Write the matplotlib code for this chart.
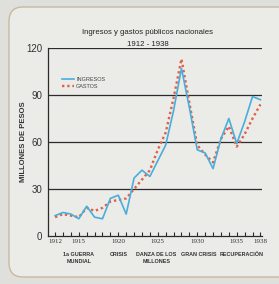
import matplotlib.pyplot as plt
from matplotlib.patches import FancyBboxPatch
from matplotlib.lines import Line2D

years = list(range(1912, 1939))
ingresos = [13, 15, 14, 11, 19, 12, 11, 24, 26, 14, 37, 42, 38, 48, 58, 80, 107,
            82, 55, 53, 43, 62, 75, 59, 73, 89, 87]
gastos = [12, 14, 13, 12, 18, 16, 18, 22, 23, 24, 30, 36, 42, 55, 66, 88, 113,
          85, 58, 52, 47, 62, 70, 57, 65, 75, 84]

year_ticks = [1912, 1915, 1920, 1925, 1930, 1935, 1938]
periods = ["1a GUERRA\nMUNDIAL", "CRISIS", "DANZA DE LOS\nMILLONES", "GRAN CRISIS", "RECUPERACIÓN"]
period_pos = [1915, 1920, 1924.8, 1930.2, 1935.6]
y_ticks = [0, 30, 60, 90, 120]

narrow = ["Liberation Sans Narrow", "Liberation Sans", "DejaVu Sans"]

fig = plt.figure(figsize=(2.79, 2.84), dpi=100)
fig.patch.set_facecolor("#dfdfdb")

# card behind the chart
card = FancyBboxPatch((9 / 279, 7 / 284), 290 / 279, 270 / 284,
                      boxstyle="round,pad=0,rounding_size=0.05",
                      transform=fig.transFigure, facecolor="#ebebe8",
                      edgecolor="#cbb89f", linewidth=1.0, zorder=-5)
fig.patches.append(card)

ax = fig.add_axes([48 / 279, 1 - 236 / 284, 214 / 279, 188 / 284])
ax.set_facecolor("none")
ax.set_zorder(1)

for v in y_ticks[1:]:
    ax.axhline(v, color="#2b2b2b", linewidth=0.9, zorder=1)

ax.plot(years, gastos, color="#e0604a", linestyle=(0, (1, 1.2)), linewidth=1.7, zorder=2)
ax.plot(years, ingresos, color="#48aedb", linewidth=1.2, zorder=3)

ax.set_xlim(1911.1, 1938.2)
ax.set_ylim(0, 120)
for s in ["top", "right"]:
    ax.spines[s].set_visible(False)
ax.spines["left"].set_color("#2b2b2b")
ax.spines["bottom"].set_color("#2b2b2b")
ax.spines["left"].set_linewidth(0.9)
ax.spines["bottom"].set_linewidth(0.9)

ax.set_yticks(y_ticks)
ax.set_yticklabels([str(v) for v in y_ticks], fontsize=7, color="#333333", family=narrow)
ax.tick_params(axis="y", length=0, pad=4)

ax.set_xticks(years, minor=True)
ax.set_xticks(year_ticks)
ax.set_xticklabels([str(y) for y in year_ticks], fontsize=5, color="#333333",
                   family=["Liberation Serif", "DejaVu Serif"])
ax.tick_params(axis="x", which="both", direction="in", length=3, width=0.8,
               color="#2b2b2b", pad=2)

for label, pos in zip(periods, period_pos):
    ax.text(pos, -0.085, label, transform=ax.get_xaxis_transform(), ha="center",
            va="top", fontsize=3.9, color="#333333", family=narrow,
            fontweight="bold", linespacing=1.4)

ax.set_ylabel("MILLONES DE PESOS", fontsize=5.5, color="#333333", family=narrow,
              fontweight="bold")
ax.yaxis.set_label_coords(-0.1, 0.5)

fig.text(148 / 279, 1 - 32 / 284, "Ingresos y gastos públicos nacionales", ha="center",
         va="center", fontsize=5.6, color="#222222", family=narrow)
fig.text(148 / 279, 1 - 44 / 284, "1912 - 1938", ha="center", va="center",
         fontsize=5.6, color="#222222", family=narrow)

handles = [Line2D([], [], color="#48aedb", linewidth=1.2),
           Line2D([], [], color="#e0604a", linestyle=(0, (1, 1.2)), linewidth=1.7)]
ax.legend(handles, ["INGRESOS", "GASTOS"], loc="upper left", bbox_to_anchor=(0.04, 0.87),
          frameon=False, prop={"family": narrow, "size": 4.0}, handlelength=2.2,
          handletextpad=0.4, labelspacing=0.2, labelcolor="#444444")

fig.savefig("out.png", dpi=100)
